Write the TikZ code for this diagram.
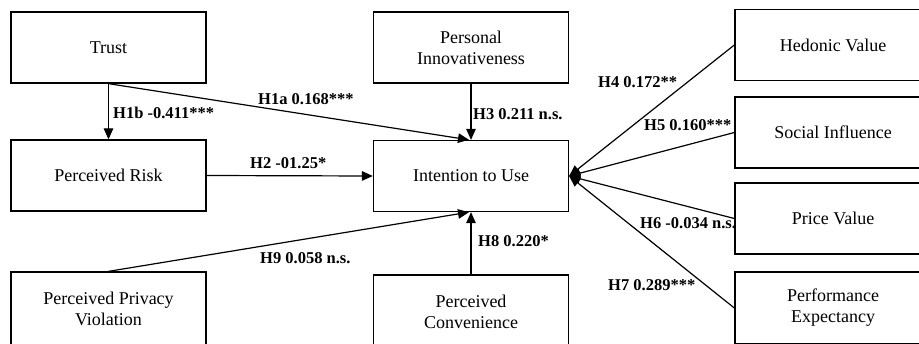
\documentclass[tikz,border=0pt]{standalone}
\usepackage{fontspec}
\setmainfont{Liberation Serif}
\usetikzlibrary{arrows.meta}
\begin{document}
\begin{tikzpicture}[x=1pt,y=-1pt,
  box/.style={draw,line width=1.3pt,minimum width=195pt,minimum height=71pt,align=center,inner sep=0pt,font=\fontsize{18}{21}\selectfont},
  lbl/.style={anchor=west,inner sep=0pt,font=\fontsize{16.5}{19}\selectfont\bfseries},
  arr/.style={line width=1.2pt,-{Triangle[length=11pt,width=9.5pt]}}]
\useasboundingbox (0,0) rectangle (919,343);
\clip (0,0) rectangle (919,343);
\fill[white] (0,0) rectangle (919,343);
\node[box] (trust) at (108.5,47.5) {Trust};
\node[box] (risk) at (108.5,175.5) {Perceived Risk};
\node[box,minimum height=74pt] (ppv) at (108.5,309) {Perceived Privacy\\Violation};
\node[box] (pi) at (471,47.5) {Personal\\Innovativeness};
\node[box] (int) at (471,176) {Intention to Use};
\node[box,minimum height=74pt] (pc) at (471,312) {Perceived\\Convenience};
\node[box,minimum width=196pt] (hed) at (833,45) {Hedonic Value};
\node[box,minimum width=196pt] (soc) at (833,132.5) {Social Influence};
\node[box,minimum width=196pt] (pv) at (833,218.5) {Price Value};
\node[box,minimum width=196pt,minimum height=72pt] (pe) at (833,308) {Performance\\Expectancy};
\coordinate (intnw) at ([xshift=-2pt]int.north);
\coordinate (intsw) at ([xshift=-2pt]int.south);
\draw[arr] (trust.south) -- (risk.north);
\draw[arr] (trust.south) -- (intnw);
\draw[arr] (risk.east) -- (int.west);
\draw[arr] (pi.south) -- (int.north);
\draw[arr] (ppv.north) -- (intsw);
\draw[arr] (pc.north) -- (int.south);
\draw[arr] (hed.west) -- (int.east);
\draw[arr] (soc.west) -- (int.east);
\draw[arr] (pv.west) -- (int.east);
\draw[arr] (pe.west) -- (int.east);
\node[lbl] (l1b) at (113,113) {H1b -0.411***};
\node[lbl] (l1a) at (258,99) {H1a 0.168***};
\node[lbl] (l2) at (250,163) {H2 -01.25*};
\node[lbl] (l3) at (473,114) {H3 0.211 n.s.};
\node[lbl] (l4) at (598,82) {H4 0.172**};
\node[lbl] (l5) at (644,125) {H5 0.160***};
\node[lbl] (l6) at (640,223) {H6 -0.034 n.s.};
\node[lbl] (l7) at (608,285) {H7 0.289***};
\node[lbl] (l8) at (478,241) {H8 0.220*};
\node[lbl] (l9) at (260,258) {H9 0.058 n.s.};
\end{tikzpicture}
\end{document}
